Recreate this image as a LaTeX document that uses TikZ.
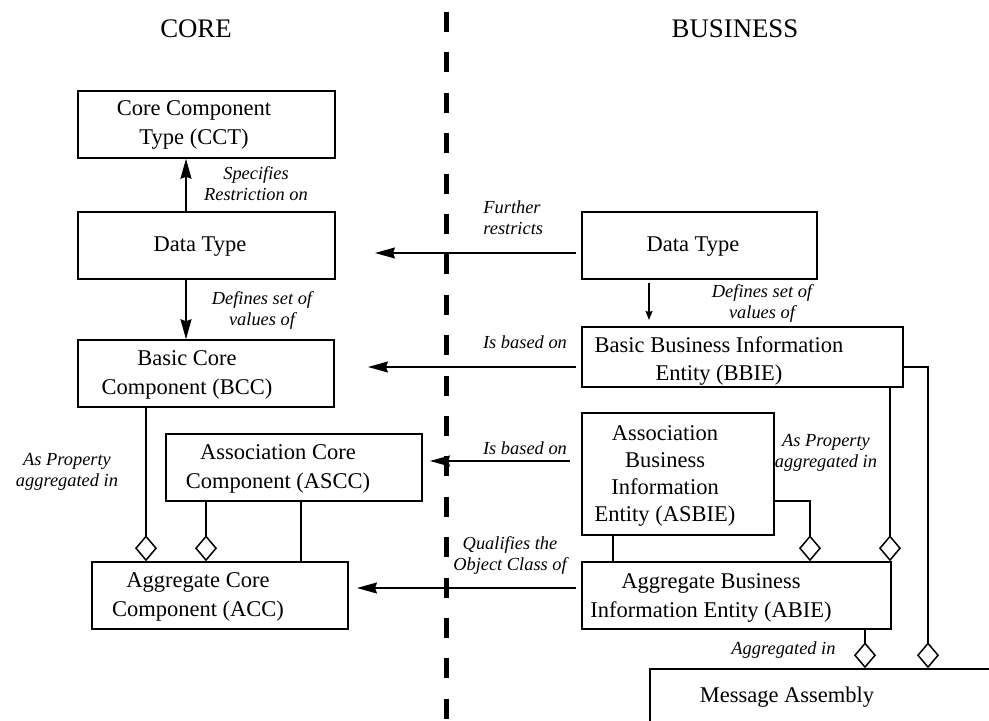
\documentclass[tikz,border=0pt]{standalone}
\usepackage{fontspec}
\setmainfont{Liberation Serif}
\usetikzlibrary{arrows.meta}
\begin{document}
\begin{tikzpicture}[x=0.5pt,y=-0.5pt,
  box/.style={draw, line width=0.75pt, inner sep=0pt, minimum height=33.5pt},
  txt/.style={align=center, inner sep=0pt, font=\fontsize{11.25}{14.25}\selectfont},
  lbl/.style={align=center, inner sep=0pt, font=\fontsize{9.2}{10.5}\selectfont\itshape},
  hdr/.style={inner sep=0pt, font=\fontsize{13.4}{16}\selectfont},
  conn/.style={line width=0.75pt},
  bigarrow/.style={conn, -{Stealth[length=10pt,width=5.5pt,inset=1pt]}},
  smallarrow/.style={conn, -{Stealth[length=4.5pt,width=3.5pt,inset=0.5pt]}},
  agg/.style={conn, -{Diamond[open,length=13pt,width=11pt]}},
  divider/.style={line width=2.5pt, dash pattern=on 10pt off 10.2pt},
]
\useasboundingbox (0,0) rectangle (989,721);
\clip (0,0) rectangle (989,721);

% headers
\node[hdr] (hcore) at (196,29) {CORE};
\node[hdr] (hbus) at (735,29) {BUSINESS};

% divider
\coordinate (dtop) at (446.5,12);
\coordinate (dbot) at (446.5,721);
\draw[divider] (dtop) -- (dbot);

% left boxes
\node[box, minimum width=128.5pt] (cct) at (206.5,124.5) {};
\node[txt] (cctt) at (194,125) {Core Component\\Type (CCT)};
\node[box, minimum width=128.5pt] (dtl) at (206.5,245.5) {};
\node[txt] (dtlt) at (200,247) {Data Type};
\node[box, minimum width=128pt] (bcc) at (206,373.5) {};
\node[txt] (bcct) at (187,375) {Basic Core\\Component (BCC)};
\node[box, minimum width=128pt] (ascc) at (294,467.5) {};
\node[txt] (tascc) at (278,469) {Association Core\\Component (ASCC)};
\node[box, minimum width=128pt] (acc) at (220,595.5) {};
\node[txt] (acct) at (198,597) {Aggregate Core\\Component (ACC)};

% right boxes
\node[box, minimum width=117.5pt] (dtr) at (699.5,245.5) {};
\node[txt] (dtrt) at (693,247) {Data Type};
\node[box, minimum width=160.5pt, minimum height=30pt] (bbie) at (742.5,357) {};
\node[txt] (bbiet) at (719,361) {Basic Business Information\\Entity (BBIE)};
\node[box, minimum width=96pt, minimum height=61pt] (asbie) at (678,474) {};
\node[txt, font=\fontsize{11.25}{13.5}\selectfont] (asbiet) at (665,476) {Association\\Business\\Information\\Entity (ASBIE)};
\node[box, minimum width=154.5pt] (abie) at (736.5,595.5) {};
\node[txt] (abiet) at (711,598) {Aggregate Business\\Information Entity (ABIE)};
\node[box, minimum width=180pt, minimum height=45.5pt] (ma) at (830,714.5) {};
\node[txt] (mat) at (787,697) {Message Assembly};

% column / row coordinates
\coordinate (c146) at (146,0);
\coordinate (c186) at (186,0);
\coordinate (c206) at (206,0);
\coordinate (c301) at (301,0);
\coordinate (c613) at (613,0);
\coordinate (c865) at (865,0);
\coordinate (c890) at (890,0);
\coordinate (r1) at (928,367);
\coordinate (r2) at (810,501);

% left vertical arrows
\draw[bigarrow] (dtl.north -| c186) -- (cct.south -| c186);
\draw[bigarrow] (dtl.south -| c186) -- (bcc.north -| c186);

% horizontal arrows across divider
\coordinate (h1s) at (576,253);   \coordinate (h1e) at (375,253);
\coordinate (h2s) at (576,367);   \coordinate (h2e) at (368,367);
\coordinate (h3s) at (570,461);   \coordinate (h3e) at (430,461);
\coordinate (h4s) at (576,588);   \coordinate (h4e) at (357,588);
\draw[bigarrow] (h1s) -- (h1e);
\draw[bigarrow] (h2s) -- (h2e);
\draw[bigarrow] (h3s) -- (h3e);
\draw[bigarrow] (h4s) -- (h4e);

% right small arrow
\coordinate (v1s) at (649,283);   \coordinate (v1e) at (649,320);
\draw[smallarrow] (v1s) -- (v1e);

% aggregations left
\draw[agg] (bcc.south -| c146) -- (acc.north -| c146);
\draw[agg] (ascc.south -| c206) -- (acc.north -| c206);
\draw[conn] (ascc.south -| c301) -- (acc.north -| c301);

% aggregations right
\draw[agg] (bbie.east |- r1) -- (r1) -- (ma.north -| r1);
\draw[agg] (bbie.south -| c890) -- (abie.north -| c890);
\draw[agg] (asbie.east |- r2) -- (r2) -- (abie.north -| r2);
\draw[conn] (asbie.south -| c613) -- (abie.north -| c613);
\draw[agg] (abie.south -| c865) -- (ma.north -| c865);

% labels
\node[lbl] (l1) at (256,184) {Specifies\\Restriction on};
\node[lbl] (l2) at (262,310) {Defines set of\\values of};
\node[lbl, align=left, anchor=west] (l3) at (483,218) {Further\\restricts};
\node[lbl] (l4) at (762,303.5) {Defines set of\\values of};
\node[lbl] (l5) at (525,342) {Is based on};
\node[lbl] (l6) at (525,448) {Is based on};
\node[lbl] (l7) at (67,472) {As Property\\aggregated in};
\node[lbl] (l8) at (826,453) {As Property\\aggregated in};
\node[lbl] (l9) at (510,555.5) {Qualifies the\\Object Class of};
\node[lbl] (l10) at (783.5,650) {Aggregated in};
\end{tikzpicture}
\end{document}
